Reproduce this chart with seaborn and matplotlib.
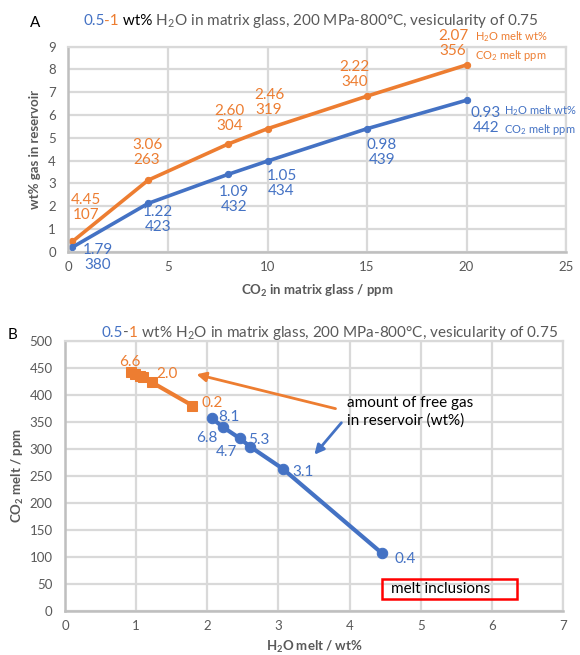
import matplotlib
matplotlib.use('Agg')
import matplotlib.pyplot as plt
from matplotlib.patches import Rectangle
import seaborn as sns

sns.set_theme(style='whitegrid')
plt.rcParams['font.family'] = ['Lato', 'DejaVu Sans']
plt.rcParams['mathtext.fontset'] = 'custom'
plt.rcParams['mathtext.rm'] = 'Lato'
plt.rcParams['mathtext.bf'] = 'Lato:bold'

BLUE = '#4472C4'
ORANGE = '#ED7D31'
GREY = '#595959'
GRID = '#d9d9d9'

# panel A: CO2 left in matrix glass vs free gas in the reservoir
co2_matrix = [0.2, 4, 8, 10, 15, 20]
gas_h2o_1 = [0.45, 3.14, 4.72, 5.4, 6.83, 8.2]     # 1 wt% H2O in matrix glass
gas_h2o_05 = [0.2, 2.12, 3.39, 3.98, 5.4, 6.65]    # 0.5 wt% H2O in matrix glass

# melt composition at each point
h2o_melt_1 = [4.45, 3.06, 2.60, 2.46, 2.22, 2.07]
co2_melt_1 = [107, 263, 304, 319, 340, 356]
h2o_melt_05 = [1.79, 1.22, 1.09, 1.05, 0.98, 0.93]
co2_melt_05 = [380, 423, 432, 434, 439, 442]

# panel B point labels (free gas, wt%)
gas_lab_1 = ['0.4', '3.1', '4.7', '5.3', '6.8', '8.1']
gas_lab_05 = ['0.2', '2.0', '', '', '', '6.6']

# label offsets in pixels (dx, dy)
off_a_1 = [(13.5, 34), (-1, 28), (2, 26), (1.5, 26), (-12.5, 22), (-13.5, 21)]
off_a_05 = [(25.5, -10), (10, -16), (6, -25), (14, -22), (15, -24), (19.5, -20)]
off_b_1 = [(23.5, -6), (20.5, -3), (-23.5, -5.5), (19, -2), (-16.5, -10.5), (16.5, 1.5)]
off_b_05 = [(20, 3), (15, 8), (0, 0), (0, 0), (0, 0), (-1, 10)]


def style_axes(ax):
    # excel-like look: light grid, darker left/bottom axis, no ticks
    ax.grid(True, color=GRID, lw=1.6)
    for side in ['left', 'bottom']:
        ax.spines[side].set_color('#bfbfbf')
        ax.spines[side].set_linewidth(1.8)
    for side in ['top', 'right']:
        ax.spines[side].set_color(GRID)
        ax.spines[side].set_linewidth(1.6)
    ax.tick_params(length=0, labelsize=9.5, labelcolor=GREY)
    ax.tick_params(axis='y', pad=9)
    ax.tick_params(axis='x', pad=7)
    ax.set_axisbelow(True)


fig = plt.figure(figsize=(5.8, 6.55), dpi=100)
axA = fig.add_axes([0.1181, 0.6157, 0.8578, 0.313])
axB = fig.add_axes([0.1121, 0.0676, 0.8586, 0.4122])

# ---------------- panel A ----------------
sns.lineplot(x=co2_matrix, y=gas_h2o_1, ax=axA, color=ORANGE, lw=2.6,
             marker='o', markersize=4.5, markeredgecolor=ORANGE, sort=False)
sns.lineplot(x=co2_matrix, y=gas_h2o_05, ax=axA, color=BLUE, lw=2.6,
             marker='o', markersize=4.5, markeredgecolor=BLUE, sort=False)
axA.set_xlim(0, 25)
axA.set_ylim(0, 9)
axA.set_xticks(range(0, 26, 5))
axA.set_yticks(range(0, 10))
style_axes(axA)

for i in range(len(co2_matrix)):
    axA.annotate(f'{h2o_melt_1[i]:.2f}\n{co2_melt_1[i]}', (co2_matrix[i], gas_h2o_1[i]),
                 xytext=off_a_1[i], textcoords='offset pixels', ha='center', va='center',
                 color=ORANGE, fontsize=11, linespacing=1.1, annotation_clip=False)
    axA.annotate(f'{h2o_melt_05[i]:.2f}\n{co2_melt_05[i]}', (co2_matrix[i], gas_h2o_05[i]),
                 xytext=off_a_05[i], textcoords='offset pixels', ha='center', va='center',
                 color=BLUE, fontsize=11, linespacing=1.1, annotation_clip=False)

axA.annotate('H$_2$O melt wt%\nCO$_2$ melt ppm', (co2_matrix[-1], gas_h2o_1[-1]),
             xytext=(8.5, 19), textcoords='offset pixels', ha='left', va='center',
             color=ORANGE, fontsize=8, linespacing=1.35, annotation_clip=False)
axA.annotate('H$_2$O melt wt%\nCO$_2$ melt ppm', (co2_matrix[-1], gas_h2o_05[-1]),
             xytext=(37, -20), textcoords='offset pixels', ha='left', va='center',
             color=BLUE, fontsize=8, linespacing=1.35, annotation_clip=False)

axA.set_xlabel(r'CO$_\mathbf{2}$ in matrix glass / ppm', fontsize=9.5,
               fontweight='bold', color=GREY)
axA.set_ylabel('wt% gas in reservoir', fontsize=9.5, fontweight='bold', color=GREY)
axA.xaxis.set_label_coords(0.5, -0.15)
axA.yaxis.set_label_coords(-0.055, 0.5)

# ---------------- panel B ----------------
sns.lineplot(x=h2o_melt_05, y=co2_melt_05, ax=axB, color=ORANGE, lw=3,
             marker='s', markersize=7.5, markeredgecolor=ORANGE, sort=False)
sns.lineplot(x=h2o_melt_1, y=co2_melt_1, ax=axB, color=BLUE, lw=3,
             marker='o', markersize=7.5, markeredgecolor=BLUE, sort=False)
axB.set_xlim(0, 7)
axB.set_ylim(0, 500)
axB.set_xticks(range(0, 8))
axB.set_yticks(range(0, 501, 50))
style_axes(axB)

for i in range(len(h2o_melt_1)):
    axB.annotate(gas_lab_1[i], (h2o_melt_1[i], co2_melt_1[i]), xytext=off_b_1[i],
                 textcoords='offset pixels', ha='center', va='center',
                 color=BLUE, fontsize=11)
    if gas_lab_05[i]:
        axB.annotate(gas_lab_05[i], (h2o_melt_05[i], co2_melt_05[i]), xytext=off_b_05[i],
                     textcoords='offset pixels', ha='center', va='center',
                     color=ORANGE, fontsize=11)

axB.annotate('', xy=(1.81, 439), xytext=(3.84, 373),
             arrowprops=dict(arrowstyle='-|>', color=ORANGE, lw=2, mutation_scale=14))
axB.annotate('', xy=(3.48, 285), xytext=(3.91, 352),
             arrowprops=dict(arrowstyle='-|>', color=BLUE, lw=2, mutation_scale=14))
axB.text(3.97, 368, 'amount of free gas\nin reservoir (wt%)', ha='left', va='center',
         fontsize=11, color='black', linespacing=1.25)

axB.add_patch(Rectangle((4.45, 22.5), 1.91, 37, fill=False, edgecolor='#ff0000', lw=1.8))
axB.text(4.58, 41, 'melt inclusions', ha='left', va='center', fontsize=11, color='black')

axB.set_xlabel(r'H$_\mathbf{2}$O melt / wt%', fontsize=9.5, fontweight='bold', color=GREY)
axB.set_ylabel(r'CO$_\mathbf{2}$ melt / ppm', fontsize=9.5, fontweight='bold', color=GREY)
axB.xaxis.set_label_coords(0.5, -0.105)
axB.yaxis.set_label_coords(-0.078, 0.5)

# ---------------- titles (multi-coloured, pieces laid side by side) ----------------
rest = ' H$_2$O in matrix glass, 200 MPa-800°C, vesicularity of 0.75'
fig.canvas.draw()
renderer = fig.canvas.get_renderer()


def draw_pieces(x_px, y_px, pieces, size=11):
    x = x_px
    for txt, col in pieces:
        t = fig.text(x / 580, 1 - y_px / 655, txt, color=col, fontsize=size,
                     ha='left', va='baseline')
        x += t.get_window_extent(renderer).width


draw_pieces(83, 25, [('0.5', BLUE), ('-1', ORANGE), (' wt%', 'black'), (rest, GREY)])
draw_pieces(101.5, 337, [('0.5', BLUE), ('-', GREY), ('1', ORANGE), (' wt%' + rest, GREY)])

fig.text(35 / 580, 1 - 22.7 / 655, 'A', fontsize=11, color='black', ha='center', va='center')
fig.text(12.7 / 580, 1 - 335 / 655, 'B', fontsize=11, color='black', ha='center', va='center')

fig.savefig('out.png', dpi=100)
